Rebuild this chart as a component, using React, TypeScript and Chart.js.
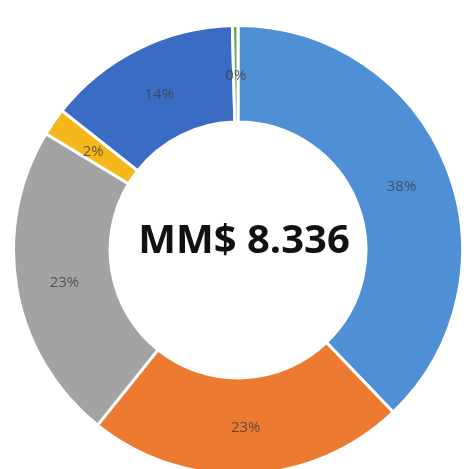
import React, { useEffect, useRef } from "react";
import { Chart, registerables } from "chart.js";

Chart.register(...registerables);

const categories = ["A", "B", "C", "D", "E", "F"];
const values = [38, 23, 23, 2, 14, 0.4];
const percentLabels = ["38%", "23%", "23%", "2%", "14%", "0%"];
const colors = ["#4f8fd6", "#ec7a30", "#a3a3a3", "#f4b81c", "#3a6cc4", "#6aaa46"];
const centerText = "MM$ 8.336";

const labelPlugin = {
  id: "donutLabels",
  afterDatasetsDraw(chart: any) {
    const ctx = chart.ctx;
    const meta = chart.getDatasetMeta(0);
    ctx.save();
    ctx.textAlign = "center";
    ctx.textBaseline = "middle";
    ctx.font = "15px 'Open Sans', 'Liberation Sans', sans-serif";
    ctx.fillStyle = "rgba(64,64,64,0.8)";
    meta.data.forEach((arc: any, i: number) => {
      const p = arc.tooltipPosition();
      ctx.fillText(percentLabels[i], p.x, p.y + 2);
    });
    const a = meta.data[0];
    ctx.fillStyle = "#111";
    ctx.font = "bold 40px 'Open Sans', 'Liberation Sans', sans-serif";
    ctx.fillText(centerText, a.x + 6, a.y - 8);
    ctx.restore();
  },
};

export default function App() {
  const ref = useRef<HTMLCanvasElement>(null);
  useEffect(() => {
    if (!ref.current) return;
    const chart = new Chart(ref.current, {
      type: "doughnut",
      data: {
        labels: categories,
        datasets: [
          {
            data: values,
            backgroundColor: colors,
            borderColor: "#ffffff",
            borderWidth: 3,
          },
        ],
      },
      options: {
        animation: false,
        responsive: false,
        cutout: "57%",
        layout: { padding: 0 },
        plugins: { legend: { display: false }, tooltip: { enabled: false } },
      },
      plugins: [labelPlugin],
    });
    return () => chart.destroy();
  }, []);
  return (
    <div
      style={{
        position: "fixed",
        left: 0,
        top: 0,
        width: 466,
        height: 469,
        overflow: "hidden",
        background: "#fff",
      }}
    >
      <canvas
        ref={ref}
        width={452}
        height={452}
        style={{ position: "absolute", left: 12, top: 24, width: 452, height: 452 }}
      />
    </div>
  );
}
